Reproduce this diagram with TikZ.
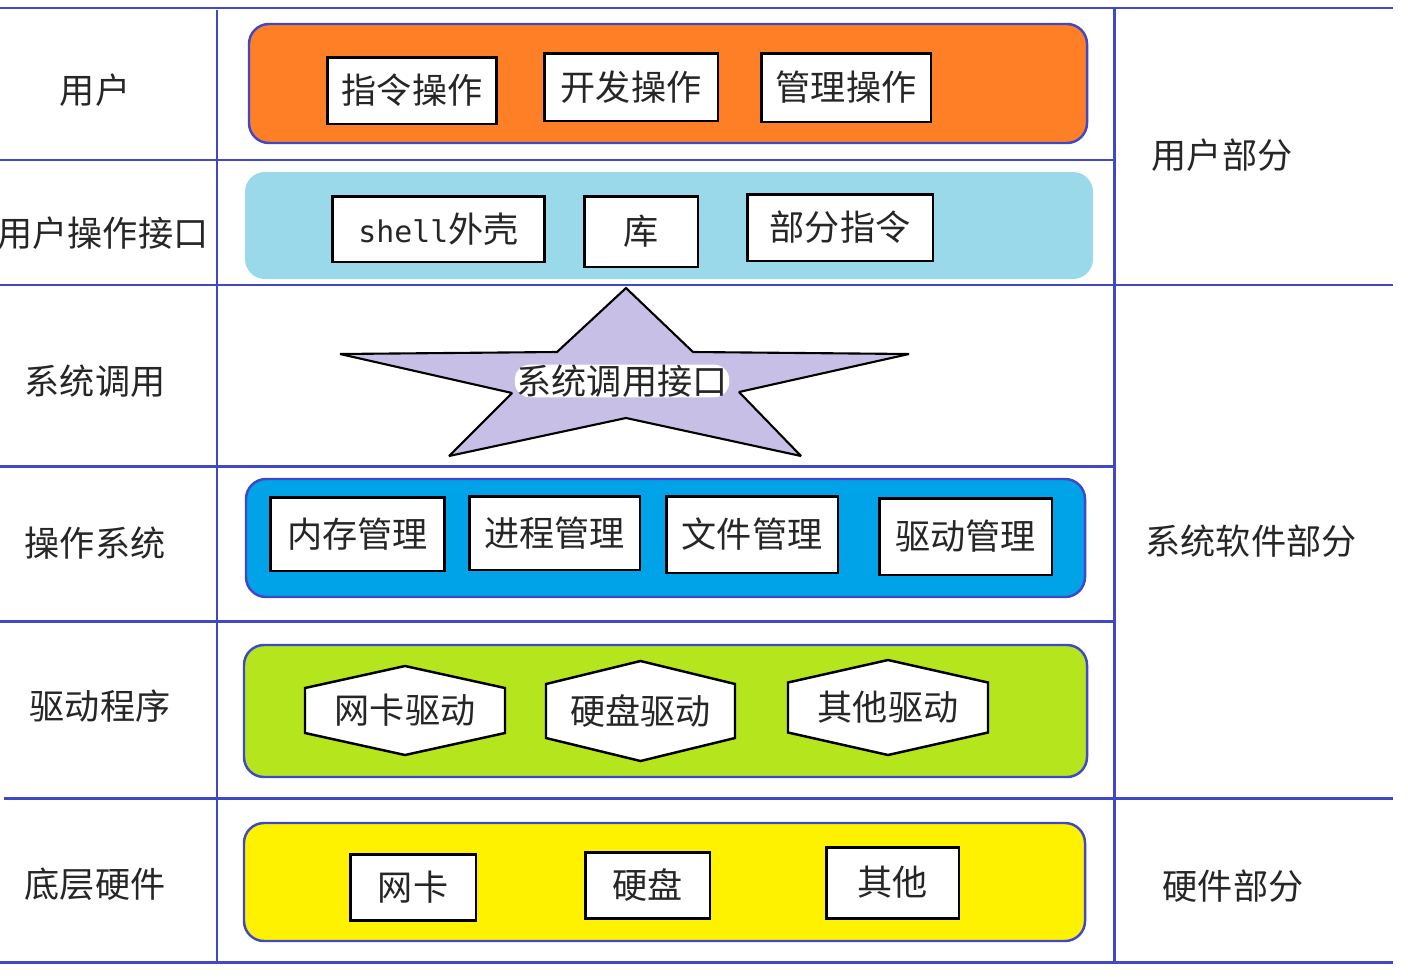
\documentclass[tikz,border=0pt]{standalone}
\usepackage{fontspec}
\setmainfont{Noto Sans CJK SC}
\newfontfamily\shellfont{DejaVu Sans Mono}
\usepackage{tikz}

\definecolor{gridblue}{RGB}{64,72,200}
\definecolor{userorange}{RGB}{255,127,39}
\definecolor{shellcyan}{RGB}{153,217,234}
\definecolor{osblue}{RGB}{0,162,232}
\definecolor{drvgreen}{RGB}{181,230,29}
\definecolor{hwyellow}{RGB}{255,242,0}
\definecolor{starlilac}{RGB}{200,191,231}

\begin{document}
\begin{tikzpicture}[x=0.02cm,y=-0.02cm,
  every node/.style={font=\fontsize{20}{24}\selectfont, text=black!85},
  gridline/.style={gridblue, line width=1.7pt},
  layer/.style={rounded corners=0.4cm, draw=gridblue, line width=1.4pt},
  opbox/.style={draw=black, line width=1.7pt, fill=white, inner sep=0pt},
  hexbox/.style={draw=black, line width=1.4pt, fill=white}]
  \useasboundingbox (0,0) rectangle (1408,977);

  % table
  \foreach \y/\xa/\xb in {8/0/1393,160/0/1114,285/0/1393,466/0/1114,621/0/1114,798/4/1393,962/0/1393}
    \draw[gridline] (\xa,\y) -- (\xb,\y);
  \draw[gridline] (217,10) -- (217,962);
  \draw[gridline] (1114,8) -- (1114,962);

  % layers
  \draw[layer, fill=userorange] (249,24) rectangle (1087,143);
  \fill[shellcyan, rounded corners=0.4cm] (245,172) rectangle (1093,279);
  \draw[layer, fill=osblue] (246,479) rectangle (1085,597);
  \draw[layer, fill=drvgreen] (244,645) rectangle (1087,777);
  \draw[layer, fill=hwyellow] (244,823) rectangle (1085,941);

  % row labels
  \foreach \nm/\cx/\cy/\txt in {lUser/95/90/用户, lIface/103/233/用户操作接口, lSys/95/381/系统调用,
      lOs/95/543/操作系统, lDrv/100/706/驱动程序, lHw/95/884/底层硬件,
      rUser/1222/155/用户部分, rSys/1251/541/系统软件部分, rHw/1233/886/硬件部分}
    \node (\nm) at (\cx,\cy) {\txt};

  % boxes
  \foreach \nm/\cx/\cy/\w/\h/\txt in {cmdop/412/90.5/3.40/1.34/指令操作, devop/631/87/3.48/1.36/开发操作,
      mgrop/846/87.5/3.40/1.38/管理操作,
      lib/641/231.5/2.28/1.42/库, partcmd/840/227.5/3.72/1.34/部分指令,
      memmgr/357.5/534/3.50/1.48/内存管理, procmgr/554.5/533/3.42/1.48/进程管理,
      filemgr/752/534.5/3.44/1.54/文件管理, drvmgr/965.5/536.5/3.46/1.54/驱动管理,
      nic/413/887/2.52/1.32/网卡, disk/647.5/885/2.50/1.32/硬盘, other/892.5/882.5/2.66/1.42/其他}
    \node[opbox, minimum width=\w cm, minimum height=\h cm] (\nm) at (\cx,\cy) {\txt};
  \node[opbox, minimum width=4.26cm, minimum height=1.32cm] (shell) at (438.5,229)
    {{\shellfont\fontsize{17}{20}\selectfont shell}外壳};

  % system call star
  \draw[fill=starlilac, line width=1.2pt, miter limit=2] (626,288) -- (693,352) -- (909,354) -- (739,392)
    -- (801,456) -- (626,418) -- (449,456) -- (512,393) -- (340,354) -- (557,352) -- cycle;
  \node[fill=white, rounded corners=0.3cm, inner xsep=1pt, inner ysep=0pt] (syscall) at (622,381) {系统调用接口};

  % driver hexagons
  \foreach \nm/\cx/\cy/\hw/\hh/\sh/\txt in {nicdrv/405/710.5/100/44.5/22.5/网卡驱动,
      diskdrv/640.5/711/94.5/50/27/硬盘驱动, otherdrv/888/707.5/100/47.5/25/其他驱动}{
    \draw[hexbox] (\cx,\cy-\hh) -- (\cx+\hw,\cy-\sh) -- (\cx+\hw,\cy+\sh) -- (\cx,\cy+\hh)
      -- (\cx-\hw,\cy+\sh) -- (\cx-\hw,\cy-\sh) -- cycle;
    \node (\nm) at (\cx,\cy) {\txt};
  }
\end{tikzpicture}
\end{document}
